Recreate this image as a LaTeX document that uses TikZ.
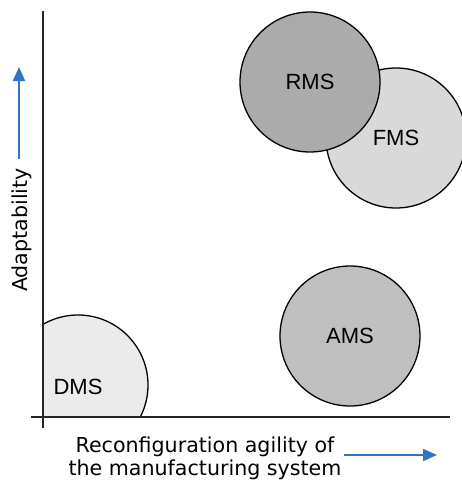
\documentclass[tikz,border=0pt]{standalone}
\usepackage{xcolor}
\usepackage{fontspec}
\setmainfont{Liberation Sans}
\newfontfamily\labelfont{DejaVu Sans}
\usetikzlibrary{arrows.meta}
\definecolor{arrowblue}{HTML}{2F75C3}

\begin{document}
\begin{tikzpicture}[
  x=1pt, y=-1pt,
  every node/.style={inner sep=0pt},
  sysfont/.style={font=\fontsize{22}{26}\selectfont},
  sys/.style={draw, circle, line width=1.3pt, minimum size=140pt, sysfont},
  axis/.style={draw=black!85, line width=1.8pt},
  dir/.style={draw=arrowblue, line width=1.8pt, -{Triangle[length=14pt, width=12pt]}},
  axlabel/.style={font=\labelfont\fontsize{20.6}{23}\selectfont, align=center}
]
\useasboundingbox (0,0) rectangle (462,482);

% DMS cut by the axes
\begin{scope}
  \clip (43,0) rectangle (462,417);
  \node[sys, fill=black!8] (dms) at (78,385) {};
\end{scope}
\node[sysfont] (dmslab) at (78,387) {DMS};

\node[sys, fill=black!15] (fms) at (396,138) {FMS};
\node[sys, fill=black!33] (rms) at (310,82) {RMS};
\node[sys, fill=black!25] (ams) at (350,336) {AMS};

% axes
\coordinate (ytop) at (43,11);
\coordinate (ybot) at (43,428);
\coordinate (xleft) at (31,417);
\coordinate (xright) at (450,417);
\draw[axis] (ybot) -- (ytop);
\draw[axis] (xleft) -- (xright);

% labels and arrows
\node[axlabel, rotate=90] (ylab) at (22,230) {Adaptability};
\node[axlabel] (xlab) at (205,458) {Reconfiguration agility of\\the manufacturing system};
\coordinate (ya) at (19,159);
\coordinate (yb) at (19,67);
\coordinate (xa) at (344,455);
\coordinate (xb) at (437,455);
\draw[dir] (ya) -- (yb);
\draw[dir] (xa) -- (xb);
\end{tikzpicture}
\end{document}
